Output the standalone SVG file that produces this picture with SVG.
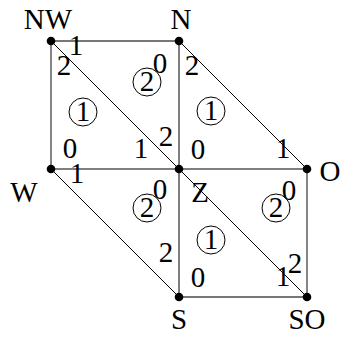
<svg xmlns="http://www.w3.org/2000/svg" width="341" height="338" viewBox="0 0 341 338">
<style>
text{font-family:'Liberation Serif','Times New Roman',serif;font-size:29px;fill:#000;text-anchor:middle}
.e{stroke:#000;stroke-width:1;fill:none}
.g{stroke:#777;stroke-width:1.8;fill:none}
.c{stroke:#000;stroke-width:1;fill:none}
.d{fill:#000}
</style>
<rect width="341" height="338" fill="#fff"/>
<g id="connectors">
<line class="g" x1="51" y1="41" x2="179" y2="41"/>
<line class="g" x1="51" y1="41" x2="51" y2="169"/>
<line class="g" x1="307" y1="169" x2="307" y2="297"/>
<line class="g" x1="179" y1="297" x2="307" y2="297"/>
<line class="e" x1="51" y1="41" x2="179" y2="169"/>
<line class="e" x1="179" y1="41" x2="179" y2="297"/>
<line class="e" x1="179" y1="41" x2="307" y2="169"/>
<line class="e" x1="51" y1="169" x2="307" y2="169"/>
<line class="e" x1="51" y1="169" x2="179" y2="297"/>
<line class="e" x1="179" y1="169" x2="307" y2="297"/>
</g>
<g id="node-NW"><circle class="d" cx="51" cy="41" r="4.3"/><text x="48" y="29">NW</text></g>
<g id="node-N"><circle class="d" cx="179" cy="41" r="4.3"/><text x="181" y="29">N</text></g>
<g id="node-W"><circle class="d" cx="51" cy="169" r="4.3"/><text x="24" y="202">W</text></g>
<g id="node-Z"><circle class="d" cx="179" cy="169" r="4.3"/><text x="200" y="202">Z</text></g>
<g id="node-O"><circle class="d" cx="307" cy="169" r="4.3"/><text x="330" y="181">O</text></g>
<g id="node-S"><circle class="d" cx="179" cy="297" r="4.3"/><text x="179" y="329">S</text></g>
<g id="node-SO"><circle class="d" cx="307" cy="297" r="4.3"/><text x="307" y="329">SO</text></g>
<g id="labels">
<text x="76" y="55">1</text>
<text x="64" y="75">2</text>
<text x="160" y="73">0</text>
<text x="166" y="146">2</text>
<text x="141" y="158">1</text>
<text x="70" y="158">0</text>
<text x="77" y="183">1</text>
<text x="160" y="199">0</text>
<text x="166" y="262">2</text>
<text x="192" y="75">2</text>
<text x="198" y="159">0</text>
<text x="283" y="158">1</text>
<text x="289" y="200">0</text>
<text x="295" y="273">2</text>
<text x="283" y="286">1</text>
<text x="198" y="287">0</text>
</g>
<g id="faces">
<circle class="c" cx="147" cy="82" r="14"/><text x="147" y="91">2</text>
<circle class="c" cx="83" cy="112" r="14"/><text x="83" y="121">1</text>
<circle class="c" cx="211" cy="111" r="14"/><text x="211" y="120">1</text>
<circle class="c" cx="147" cy="208" r="14"/><text x="147" y="217">2</text>
<circle class="c" cx="276" cy="208" r="14"/><text x="276" y="217">2</text>
<circle class="c" cx="211" cy="240" r="14"/><text x="211" y="249">1</text>
</g>
</svg>
